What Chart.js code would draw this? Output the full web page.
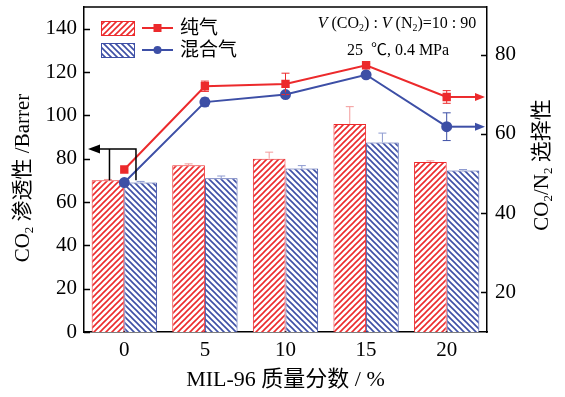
<!DOCTYPE html>
<html>
<head>
<meta charset="utf-8">
<script src="https://cdn.jsdelivr.net/npm/chart.js@4.4.1/dist/chart.umd.min.js"></script>
<style>
  html, body { margin: 0; padding: 0; background: #fff; }
  #wrap { width: 565px; height: 397px; }
</style>
</head>
<body>
<div id="wrap"><canvas id="c" width="565" height="397"></canvas></div>
<script>
const categories = ['0', '5', '10', '15', '20'];
// CO2 permeability, Barrer (left axis)
const pureBar = [70, 77, 80, 96, 78.5];
const mixBar = [69, 71, 75.5, 87.5, 74.5];
const pureBarErr = [0.4, 0.6, 3, 8, 0.5];
const mixBarErr = [0.5, 1, 1.3, 4.3, 0.5];
// CO2/N2 selectivity (right axis)
const pureSel = [51, 72, 72.6, 77.3, 69.3];
const mixSel = [47.7, 68, 69.9, 74.9, 61.8];
const pureSelErr = [0, 1.3, 2.7, 0.4, 1.6];
const mixSelErr = [0, 1, 0.4, 0.4, 3.5];
const leftTicks = [0, 20, 40, 60, 80, 100, 120, 140];
const rightTicks = [20, 40, 60, 80];

const RED = '#ec2a2c';
const BLUE = '#3d4fa6';
const SERIF = '"Liberation Serif", "Noto Sans CJK SC", serif';

const ctx = document.getElementById('c').getContext('2d');

function hatch(color, forward) {
    const s = 6;
    const c = document.createElement('canvas');
    c.width = s; c.height = s;
    const g = c.getContext('2d');
    g.fillStyle = '#fff';
    g.fillRect(0, 0, s, s);
    g.strokeStyle = color;
    g.lineWidth = 1.6;
    g.beginPath();
    if (forward) {
        g.moveTo(0, s); g.lineTo(s, 0);
        g.moveTo(-1, 1); g.lineTo(1, -1);
        g.moveTo(s - 1, s + 1); g.lineTo(s + 1, s - 1);
    } else {
        g.moveTo(0, 0); g.lineTo(s, s);
        g.moveTo(-1, s - 1); g.lineTo(1, s + 1);
        g.moveTo(s - 1, -1); g.lineTo(s + 1, 1);
    }
    g.stroke();
    return ctx.createPattern(c, 'repeat');
}
const redHatch = hatch(RED, true);
const blueHatch = hatch(BLUE, false);

// text made of runs: {t, it (italic), sub (subscript)}
function runsWidth(g, runs, size) {
    let w = 0;
    for (const r of runs) {
        const sz = r.sub ? size * 0.62 : size;
        g.font = (r.it ? 'italic ' : '') + sz + 'px ' + SERIF;
        w += g.measureText(r.t).width;
    }
    return w;
}
function drawRuns(g, x, y, runs, size) {
    // x is the centre of the whole string, y the middle line
    let cx = x - runsWidth(g, runs, size) / 2;
    g.textBaseline = 'middle';
    g.textAlign = 'left';
    for (const r of runs) {
        const sz = r.sub ? size * 0.62 : size;
        g.font = (r.it ? 'italic ' : '') + sz + 'px ' + SERIF;
        g.fillText(r.t, cx, r.sub ? y + size * 0.3 : y);
        cx += g.measureText(r.t).width;
    }
}

function arrowHead(g, tipX, tipY, dir, len, half, color) {
    g.fillStyle = color;
    g.beginPath();
    g.moveTo(tipX, tipY);
    g.lineTo(tipX - dir * len, tipY - half);
    g.lineTo(tipX - dir * len, tipY + half);
    g.closePath();
    g.fill();
}

const extras = {
    id: 'extras',
    beforeDraw(chart) {
        const g = chart.ctx;
        g.save();
        g.fillStyle = '#fff';
        g.fillRect(0, 0, chart.width, chart.height);
        g.restore();
    },
    afterDatasetsDraw(chart) {
        const g = chart.ctx;
        const y = chart.scales.y, y1 = chart.scales.y1;
        const area = chart.chartArea;
        g.save();
        g.lineWidth = 1;

        // upper whiskers on the bars
        [[0, pureBar, pureBarErr, '#f39a9a'], [1, mixBar, mixBarErr, '#8e9ad0']].forEach(([di, vals, errs, col]) => {
            const meta = chart.getDatasetMeta(di);
            g.strokeStyle = col;
            meta.data.forEach((el, j) => {
                const top = y.getPixelForValue(vals[j] + errs[j]);
                g.beginPath();
                g.moveTo(el.x, y.getPixelForValue(vals[j]));
                g.lineTo(el.x, top);
                g.moveTo(el.x - 4, top);
                g.lineTo(el.x + 4, top);
                g.stroke();
            });
        });

        // error bars on the selectivity lines
        [[2, pureSel, pureSelErr, RED], [3, mixSel, mixSelErr, BLUE]].forEach(([di, vals, errs, col]) => {
            const meta = chart.getDatasetMeta(di);
            g.strokeStyle = col;
            meta.data.forEach((el, j) => {
                if (!errs[j]) return;
                const a = y1.getPixelForValue(vals[j] + errs[j]);
                const b = y1.getPixelForValue(vals[j] - errs[j]);
                g.beginPath();
                g.moveTo(el.x, a); g.lineTo(el.x, b);
                g.moveTo(el.x - 4, a); g.lineTo(el.x + 4, a);
                g.moveTo(el.x - 4, b); g.lineTo(el.x + 4, b);
                g.stroke();
            });
        });

        // arrows from the last points to the right axis
        g.lineWidth = 2;
        [[2, RED], [3, BLUE]].forEach(([di, col]) => {
            const meta = chart.getDatasetMeta(di);
            const p = meta.data[meta.data.length - 1];
            const tip = area.right - 2;
            g.strokeStyle = col;
            g.beginPath();
            g.moveTo(p.x, p.y);
            g.lineTo(tip - 8, p.y);
            g.stroke();
            arrowHead(g, tip, p.y, 1, 10, 4, col);
        });

        // bracket around the first points, pointing to the left axis
        const cx = chart.getDatasetMeta(0).data[0].x + 16.5;
        const bx1 = cx - 15, bx2 = cx + 11.5;
        const by = y.getPixelForValue(84.5);
        const bb = y.getPixelForValue(pureBar[0]);
        g.strokeStyle = '#000';
        g.lineWidth = 1.5;
        g.beginPath();
        g.moveTo(bx1, bb); g.lineTo(bx1, by); g.lineTo(bx2, by); g.lineTo(bx2, bb);
        g.moveTo(bx1, by); g.lineTo(area.left + 12, by);
        g.stroke();
        arrowHead(g, area.left + 4, by, -1, 12, 4.5, '#000');

        // frame top and inward tick marks
        g.lineWidth = 1.5;
        g.beginPath();
        g.moveTo(area.left, area.top); g.lineTo(area.right, area.top);
        leftTicks.forEach(v => {
            const py = Math.round(y.getPixelForValue(v)) + 0.5;
            g.moveTo(area.left, py); g.lineTo(area.left + 6, py);
        });
        rightTicks.forEach(v => {
            const py = Math.round(y1.getPixelForValue(v)) + 0.5;
            g.moveTo(area.right, py); g.lineTo(area.right - 6, py);
        });
        g.stroke();

        // legend
        const lx = 101, rows = [28, 50];
        [[redHatch, RED, 'rect', '纯气'], [blueHatch, BLUE, 'circle', '混合气']].forEach(([pat, col, shape, label], i) => {
            const ry = rows[i];
            g.fillStyle = pat;
            g.fillRect(lx, ry - 7, 33, 14);
            g.strokeStyle = col;
            g.lineWidth = 1;
            g.strokeRect(lx + 0.5, ry - 7 + 0.5, 33, 14);
            g.lineWidth = 2;
            g.beginPath();
            g.moveTo(142, ry); g.lineTo(173, ry);
            g.stroke();
            g.fillStyle = col;
            if (shape === 'rect') {
                g.fillRect(157.5 - 4, ry - 4, 8, 8);
            } else {
                g.beginPath();
                g.arc(157.5, ry, 4, 0, Math.PI * 2);
                g.fill();
            }
            g.fillStyle = '#000';
            g.font = '19px ' + SERIF;
            g.textAlign = 'left';
            g.textBaseline = 'middle';
            g.fillText(label, 180, ry + 1);
        });

        // test conditions
        g.fillStyle = '#000';
        drawRuns(g, 397, 24, [
            { t: 'V', it: true }, { t: ' (CO' }, { t: '2', sub: true }, { t: ') : ' },
            { t: 'V', it: true }, { t: ' (N' }, { t: '2', sub: true }, { t: ')=10 : 90' }
        ], 16);
        drawRuns(g, 398, 51, [{ t: '25  ℃, 0.4 MPa' }], 16);

        // axis titles
        g.save();
        g.translate(23, 178);
        g.rotate(-Math.PI / 2);
        drawRuns(g, 0, 0, [{ t: 'CO' }, { t: '2', sub: true }, { t: ' 渗透性 /Barrer' }], 21);
        g.restore();
        g.save();
        g.translate(542, 165);
        g.rotate(-Math.PI / 2);
        drawRuns(g, 0, 0, [{ t: 'CO' }, { t: '2', sub: true }, { t: '/N' }, { t: '2', sub: true }, { t: ' 选择性' }], 21);
        g.restore();

        g.restore();
    }
};

const tickFont = { family: SERIF, size: 21 };

new Chart(ctx, {
    data: {
        labels: categories,
        datasets: [{
            type: 'bar',
            label: '纯气',
            data: pureBar,
            yAxisID: 'y',
            backgroundColor: redHatch,
            borderColor: RED,
            borderWidth: 1,
            categoryPercentage: 0.81,
            barPercentage: 1,
            order: 2
        }, {
            type: 'bar',
            label: '混合气',
            data: mixBar,
            yAxisID: 'y',
            backgroundColor: blueHatch,
            borderColor: BLUE,
            borderWidth: 1,
            categoryPercentage: 0.81,
            barPercentage: 1,
            order: 2
        }, {
            type: 'line',
            label: '纯气',
            data: pureSel,
            yAxisID: 'y1',
            borderColor: RED,
            backgroundColor: RED,
            borderWidth: 2,
            pointStyle: 'rect',
            pointRadius: 4.5,
            tension: 0,
            order: 1
        }, {
            type: 'line',
            label: '混合气',
            data: mixSel,
            yAxisID: 'y1',
            borderColor: BLUE,
            backgroundColor: BLUE,
            borderWidth: 2,
            pointStyle: 'circle',
            pointRadius: 4.5,
            tension: 0,
            order: 1
        }]
    },
    options: {
        responsive: false,
        animation: false,
        layout: { padding: { top: 7, left: 0, right: 0, bottom: 0 } },
        plugins: {
            legend: { display: false },
            tooltip: { enabled: false }
        },
        scales: {
            x: {
                type: 'category',
                offset: true,
                grid: { display: false, drawTicks: false },
                border: { color: '#000', width: 1.5 },
                ticks: { font: tickFont, color: '#000', padding: 6 },
                title: {
                    display: true,
                    text: 'MIL-96 质量分数 / %',
                    font: { family: SERIF, size: 22 },
                    color: '#000',
                    padding: { top: 0, bottom: 4 }
                },
                afterFit(s) { s.height = 65; s.paddingLeft = 0; s.paddingRight = 0; }
            },
            y: {
                position: 'left',
                min: 0,
                max: 150,
                grid: { display: false, drawTicks: false },
                border: { color: '#000', width: 1.5 },
                ticks: { font: tickFont, color: '#000', padding: 7 },
                afterBuildTicks(s) { s.ticks = leftTicks.map(v => ({ value: v })); },
                afterFit(s) { s.width = 84; s.paddingTop = 0; s.paddingBottom = 0; }
            },
            y1: {
                position: 'right',
                min: 10,
                max: 92,
                grid: { display: false, drawTicks: false },
                border: { color: '#000', width: 1.5 },
                ticks: { font: tickFont, color: '#000', padding: 8 },
                afterBuildTicks(s) { s.ticks = rightTicks.map(v => ({ value: v })); },
                afterFit(s) { s.width = 78; s.paddingTop = 0; s.paddingBottom = 0; }
            }
        }
    },
    plugins: [extras]
});
</script>
</body>
</html>
